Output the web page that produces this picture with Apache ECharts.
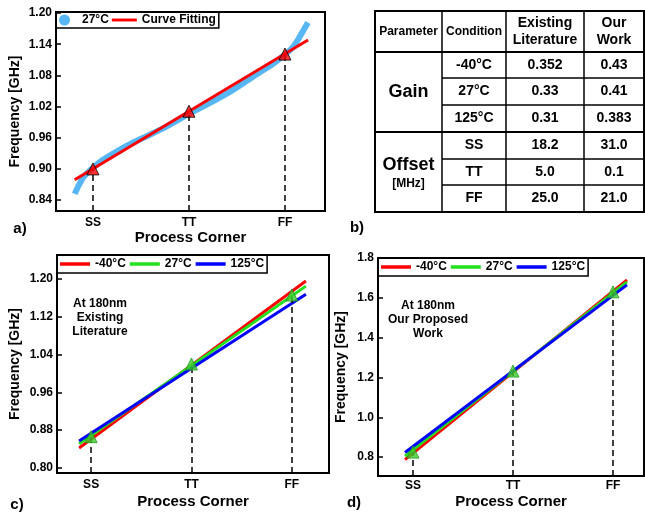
<!DOCTYPE html>
<html>
<head>
<meta charset="utf-8">
<script src="https://cdn.jsdelivr.net/npm/echarts@6/dist/echarts.min.js"></script>
<style>
  html, body { margin: 0; padding: 0; background: #fff; }
  #chart { width: 645px; height: 516px; }
</style>
</head>
<body>
<div id="chart"></div>
<script>
// process corners on the x axis
const corners = ['SS', 'TT', 'FF']

// a) measured 27°C sweep and its straight fit
const sweep27 = [[-0.19, 0.852], [-0.15, 0.868], [-0.1, 0.884], [-0.05, 0.894], [0, 0.902], [0.1, 0.917],
  [0.25, 0.934], [0.4, 0.949], [0.56, 0.963], [0.75, 0.98], [1.0, 1.006], [1.2, 1.025], [1.46, 1.052],
  [1.67, 1.078], [1.88, 1.103], [2.0, 1.12], [2.05, 1.128], [2.09, 1.136], [2.14, 1.15], [2.19, 1.166], [2.24, 1.182]]
const fitLine = [[-0.19, 0.879], [2.24, 1.148]]
const cornersA = [0.90, 1.011, 1.121]
const ticksA = [0.84, 0.90, 0.96, 1.02, 1.08, 1.14, 1.20]

// c) existing literature
const litM40 = [[-0.12, 0.842], [2.14, 1.196]]
const lit27 = [[-0.12, 0.851], [2.14, 1.185]]
const lit125 = [[-0.12, 0.857], [2.14, 1.168]]
const cornersC = [0.866, 1.02, 1.166]
const ticksC = [0.80, 0.88, 0.96, 1.04, 1.12, 1.20]

// d) proposed work
const ourM40 = [[-0.08, 0.787], [2.14, 1.69]]
const our27 = [[-0.08, 0.805], [2.14, 1.68]]
const our125 = [[-0.08, 0.823], [2.14, 1.665]]
const cornersD = [0.825, 1.232, 1.63]
const ticksD = [0.8, 1.0, 1.2, 1.4, 1.6, 1.8]

// b) table
const tableHead = ['Parameter', 'Condition', 'Existing\nLiterature', 'Our\nWork']
const gainConds = ['-40°C', '27°C', '125°C']
const gainExisting = ['0.352', '0.33', '0.31']
const gainOurs = ['0.43', '0.41', '0.383']
const offsetConds = ['SS', 'TT', 'FF']
const offsetExisting = ['18.2', '5.0', '25.0']
const offsetOurs = ['31.0', '0.1', '21.0']

const FONT = "'Liberation Sans', Arial, sans-serif"
const RED = '#ff0000', GREEN = '#22e01e', BLUE = '#0000ff'
const LINE_ICON = 'path://M0,0 L30,0 L30,3.5 L0,3.5 Z'

const myChart = echarts.init(document.getElementById('chart'))

function grid(left, top, width, height) {
  return { left, top, width, height, show: true, borderColor: '#000', borderWidth: 2, containLabel: false }
}

function xAxis(i, min, max, gap, margin) {
  return {
    gridIndex: i, type: 'value', min, max,
    axisLine: { show: false, onZero: false }, axisTick: { show: false }, splitLine: { show: false },
    axisLabel: {
      customValues: [0, 1, 2], formatter: v => corners[Math.round(v)],
      color: '#000', fontWeight: 'bold', fontSize: 12, fontFamily: FONT, margin
    },
    name: 'Process Corner', nameLocation: 'middle', nameGap: gap,
    nameTextStyle: { color: '#000', fontWeight: 'bold', fontSize: 15, fontFamily: FONT }
  }
}

function yAxis(i, min, max, ticks, digits, gap) {
  return {
    gridIndex: i, type: 'value', min, max,
    axisLine: { show: true, onZero: false, lineStyle: { color: '#000', width: 2 } }, splitLine: { show: false },
    axisTick: { show: true, inside: true, length: 5, customValues: ticks, lineStyle: { color: '#000', width: 1.5 } },
    axisLabel: {
      customValues: ticks, formatter: v => v.toFixed(digits),
      color: '#000', fontWeight: 'bold', fontSize: 12, fontFamily: FONT, margin: 4
    },
    name: 'Frequency [GHz]', nameLocation: 'middle', nameGap: gap,
    nameTextStyle: { color: '#000', fontWeight: 'bold', fontSize: 14, fontFamily: FONT }
  }
}

function line(name, i, data, color, width) {
  return {
    name, type: 'line', xAxisIndex: i, yAxisIndex: i, data, symbol: 'none',
    lineStyle: { color, width }, itemStyle: { color }, z: 3, silent: true
  }
}

function dashes(i, yMin, vals) {
  return {
    type: 'line', xAxisIndex: i, yAxisIndex: i, data: [], z: 2, silent: true,
    markLine: {
      symbol: ['none', 'none'], silent: true, label: { show: false },
      lineStyle: { color: '#000', type: [6, 4], width: 1.5 },
      data: vals.map((v, k) => [{ coord: [k, yMin] }, { coord: [k, v] }])
    }
  }
}

function triangles(i, vals, color, border) {
  return {
    type: 'scatter', xAxisIndex: i, yAxisIndex: i, symbol: 'triangle', symbolSize: 12, z: 5, silent: true,
    data: vals.map((v, k) => [k, v]),
    itemStyle: { color, borderColor: border, borderWidth: 1 }
  }
}

function legend(left, top, names) {
  return {
    left, top, orient: 'horizontal',
    data: names.map(n => ({ name: n, icon: LINE_ICON })),
    borderColor: '#000', borderWidth: 1.5, borderRadius: 0, padding: [3, 3],
    itemWidth: 30, itemHeight: 12, itemGap: 4, selectedMode: false,
    formatter: n => n.split('|').pop(),
    textStyle: { color: '#000', fontWeight: 'bold', fontSize: 12, fontFamily: FONT }
  }
}

// table drawing
const colX = [375, 442, 506, 584, 644]
const rowY = [11, 52, 78, 105, 132, 159, 185, 212]
const tableEls = []
function txt(x, y, text, size, lh) {
  tableEls.push({
    type: 'text', x, y, silent: true,
    style: { text, fill: '#000', font: `bold ${size}px ${FONT}`, align: 'center', verticalAlign: 'middle', lineHeight: lh || size + 2 }
  })
}
function seg(x1, y1, x2, y2, w) {
  tableEls.push({ type: 'line', silent: true, shape: { x1, y1, x2, y2 }, style: { stroke: '#000', lineWidth: w } })
}
tableEls.push({ type: 'rect', silent: true, shape: { x: colX[0], y: rowY[0], width: colX[4] - colX[0], height: rowY[7] - rowY[0] }, style: { fill: 'none', stroke: '#000', lineWidth: 2 } })
colX.slice(1, 4).forEach(x => seg(x, rowY[0], x, rowY[7], 1.5))
seg(colX[0], rowY[1], colX[4], rowY[1], 2)
seg(colX[0], rowY[4], colX[4], rowY[4], 2)
;[2, 3, 5, 6].forEach(r => seg(colX[1], rowY[r], colX[4], rowY[r], 1.5))
const mid = c => (colX[c] + colX[c + 1]) / 2
const rmid = r => (rowY[r] + rowY[r + 1]) / 2
tableHead.forEach((h, c) => txt(mid(c), rmid(0), h, c < 2 ? 12 : 14, 17))
txt(mid(0), (rowY[1] + rowY[4]) / 2, 'Gain', 18)
txt(mid(0), 165, 'Offset', 18)
txt(mid(0), 184, '[MHz]', 12)
gainConds.forEach((v, k) => {
  txt(mid(1), rmid(1 + k), v, 14)
  txt(mid(2), rmid(1 + k), gainExisting[k], 14)
  txt(mid(3), rmid(1 + k), gainOurs[k], 14)
})
offsetConds.forEach((v, k) => {
  txt(mid(1), rmid(4 + k), v, 14)
  txt(mid(2), rmid(4 + k), offsetExisting[k], 14)
  txt(mid(3), rmid(4 + k), offsetOurs[k], 14)
})

function label(x, y, text, size) {
  return {
    type: 'text', x, y, silent: true,
    style: { text, fill: '#000', font: `bold ${size}px ${FONT}`, align: 'center', verticalAlign: 'middle', lineHeight: 14 }
  }
}

const legendA = legend(56, 12, ['a|27°C', 'a|Curve Fitting'])
legendA.data[0].icon = 'circle'
Object.assign(legendA, { itemWidth: 25, itemHeight: 11, itemGap: 3, padding: [2, 3] })

const option = {
  animation: false,
  backgroundColor: '#fff',
  grid: [grid(56, 12, 269, 199), grid(57, 255, 272, 218), grid(378, 258, 266, 218)],
  xAxis: [xAxis(0, -0.385, 2.417, 18, 6), xAxis(1, -0.34, 2.37, 21, 6), xAxis(2, -0.35, 2.31, 18, 4)],
  yAxis: [yAxis(0, 0.819, 1.202, ticksA, 2, 34), yAxis(1, 0.789, 1.251, ticksC, 2, 35), yAxis(2, 0.705, 1.8, ticksD, 1, 30)],
  legend: [
    legendA,
    legend(57, 255, ['-40°C', '27°C', '125°C']),
    legend(378, 258, ['-40°C', '27°C', '125°C'])
  ],
  series: [
    dashes(0, 0.819, cornersA),
    Object.assign(line('a|27°C', 0, sweep27, '#57b6f4', 6), { smooth: 0.2 }),
    line('a|Curve Fitting', 0, fitLine, RED, 3),
    triangles(0, cornersA, RED, '#000'),

    dashes(1, 0.789, cornersC),
    line('-40°C', 1, litM40, RED, 3),
    line('27°C', 1, lit27, GREEN, 3),
    line('125°C', 1, lit125, BLUE, 3),
    triangles(1, cornersC, '#3ccc2c', '#1e9a1e'),

    dashes(2, 0.705, cornersD),
    line('-40°C', 2, ourM40, RED, 3),
    line('27°C', 2, our27, GREEN, 3),
    line('125°C', 2, our125, BLUE, 3),
    triangles(2, cornersD, '#3ccc2c', '#1e9a1e')
  ],
  graphic: tableEls.concat([
    label(100, 318, 'At 180nm\nExisting\nLiterature', 12),
    label(428, 320, 'At 180nm\nOur Proposed\nWork', 12),
    label(20, 229, 'a)', 15),
    label(357, 228, 'b)', 15),
    label(17, 505, 'c)', 15),
    label(354, 503, 'd)', 15)
  ])
}

option && myChart.setOption(option)
</script>
</body>
</html>
